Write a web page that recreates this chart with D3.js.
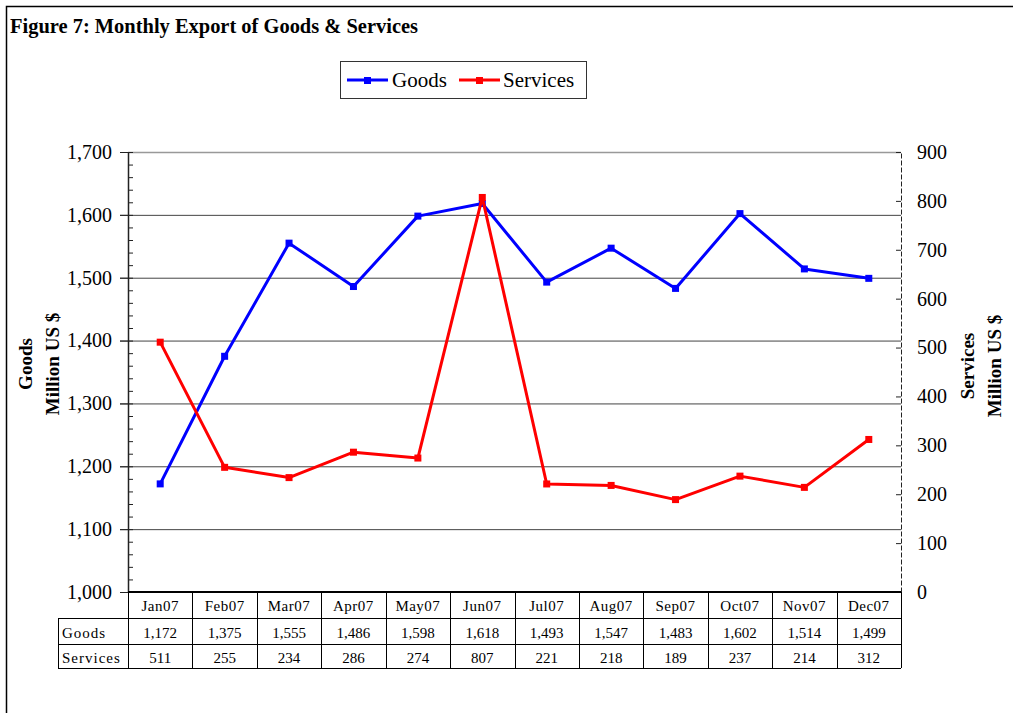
<!DOCTYPE html>
<html>
<head>
<meta charset="utf-8">
<script src="https://cdn.jsdelivr.net/npm/d3@7"></script>
<style>
  body { margin: 0; background: #fff; }
  svg text { font-family: "Liberation Serif", "Times New Roman", serif !important; fill: #000; }
</style>
</head>
<body>
<div id="chart"></div>
<script>
// data
var months = ["Jan07", "Feb07", "Mar07", "Apr07", "May07", "Jun07", "Jul07", "Aug07", "Sep07", "Oct07", "Nov07", "Dec07"];
var goods = [1172, 1375, 1555, 1486, 1598, 1618, 1493, 1547, 1483, 1602, 1514, 1499];
var services = [511, 255, 234, 286, 274, 807, 221, 218, 189, 237, 214, 312];
var goodsTicks = [1000, 1100, 1200, 1300, 1400, 1500, 1600, 1700];
var servicesTicks = [0, 100, 200, 300, 400, 500, 600, 700, 800, 900];

var width = 1013, height = 713;
var plot = {left: 128, right: 901, top: 152, bottom: 592};

var svg = d3.select("#chart")
            .append("svg")
            .attr("width", width)
            .attr("height", height);

// outer frame
svg.append("path")
   .attr("d", "M6.5,713 L6.5,6.5 L1013,6.5")
   .attr("fill", "none")
   .attr("stroke", "#000")
   .attr("stroke-width", 1.5);

// title
svg.append("text")
   .attr("x", 10)
   .attr("y", 33)
   .attr("font-size", 20)
   .attr("font-weight", "bold")
   .attr("textLength", 408)
   .attr("lengthAdjust", "spacingAndGlyphs")
   .text("Figure 7: Monthly Export of Goods & Services");

// scales
var xScale = d3.scaleBand()
               .domain(months)
               .range([plot.left, plot.right]);
var yLeft = d3.scaleLinear()
              .domain([1000, 1700])
              .range([plot.bottom, plot.top]);
var yRight = d3.scaleLinear()
               .domain([0, 900])
               .range([plot.bottom, plot.top]);

// gridlines
svg.append("g")
   .selectAll("line")
   .data(goodsTicks.slice(1, -1))
   .enter()
   .append("line")
   .attr("x1", plot.left - 8)
   .attr("x2", plot.right)
   .attr("y1", function(d) { return yLeft(d) + 0.5; })
   .attr("y2", function(d) { return yLeft(d) + 0.5; })
   .attr("stroke", "#444")
   .attr("stroke-width", 1);
// top border of the plot
svg.append("line")
   .attr("x1", plot.left)
   .attr("x2", plot.right)
   .attr("y1", plot.top + 0.5)
   .attr("y2", plot.top + 0.5)
   .attr("stroke", "#999")
   .attr("stroke-width", 1.5);

// left axis, minor ticks inside
var minorTicks = d3.range(1000, 1701, 20);
svg.append("g")
   .attr("transform", "translate(" + plot.left + ",0)")
   .call(d3.axisRight(yLeft).tickValues(minorTicks).tickSize(5).tickSizeOuter(0).tickFormat(""))
   .call(function(g) { g.select(".domain").remove(); })
   .selectAll("line").attr("stroke", "#222");
// left axis, major ticks outside
var leftAxis = svg.append("g")
   .attr("transform", "translate(" + plot.left + ",0)")
   .call(d3.axisLeft(yLeft).tickValues(goodsTicks).tickSize(8).tickSizeOuter(0).tickPadding(8).tickFormat(d3.format(",")));
leftAxis.select(".domain").attr("stroke", "#222").attr("stroke-width", 1.5);
leftAxis.selectAll("line").attr("stroke", "#222");
leftAxis.selectAll("text")
        .attr("font-size", 20);

// right axis (dashed line, ticks pointing inward)
var rightAxis = svg.append("g")
   .attr("transform", "translate(" + plot.right + ",0)")
   .call(d3.axisRight(yRight).tickValues(servicesTicks).tickSize(-5).tickSizeOuter(0).tickPadding(16));
rightAxis.select(".domain").attr("stroke", "#222").attr("stroke-dasharray", "5,2");
rightAxis.selectAll("line").attr("stroke", "#222");
rightAxis.selectAll("text")
         .attr("font-size", 20);

// x baseline
svg.append("line")
   .attr("x1", plot.left)
   .attr("x2", plot.right)
   .attr("y1", plot.bottom)
   .attr("y2", plot.bottom)
   .attr("stroke", "#000")
   .attr("stroke-width", 2);

// axis titles
function axisTitle(x, y, lines) {
  var t = svg.append("text")
             .attr("transform", "translate(" + x + "," + y + ") rotate(-90)")
             .attr("text-anchor", "middle")
             .attr("font-size", 19)
             .attr("font-weight", "bold");
  lines.forEach(function(s, i) {
    t.append("tspan").attr("x", 0).attr("dy", i === 0 ? 0 : 27).text(s);
  });
}
axisTitle(32, 364, ["Goods", "Million US $"]);
axisTitle(974, 366, ["Services", "Million US $"]);

// lines
var series = [
  {name: "Goods", values: goods, scale: yLeft, color: "#0000ff"},
  {name: "Services", values: services, scale: yRight, color: "#ff0000"}
];
series.forEach(function(s) {
  var line = d3.line()
               .x(function(d, i) { return xScale(months[i]) + xScale.bandwidth() / 2; })
               .y(function(d) { return s.scale(d); });
  svg.append("path")
     .datum(s.values)
     .attr("fill", "none")
     .attr("stroke", s.color)
     .attr("stroke-width", 3)
     .attr("stroke-linejoin", "round")
     .attr("d", line);
  svg.append("g")
     .selectAll("rect")
     .data(s.values)
     .enter()
     .append("rect")
     .attr("x", function(d, i) { return xScale(months[i]) + xScale.bandwidth() / 2 - 3.5; })
     .attr("y", function(d) { return s.scale(d) - 3.5; })
     .attr("width", 7)
     .attr("height", 7)
     .attr("fill", s.color);
});

// legend
var legend = svg.append("g");
legend.append("rect")
      .attr("x", 340.5).attr("y", 61.5)
      .attr("width", 246).attr("height", 37)
      .attr("fill", "#fff")
      .attr("stroke", "#333")
      .attr("stroke-width", 1);
var legendPos = [{x: 347, tx: 392}, {x: 459, tx: 503}];
series.forEach(function(s, i) {
  var p = legendPos[i];
  legend.append("line")
        .attr("x1", p.x).attr("x2", p.x + 41)
        .attr("y1", 80).attr("y2", 80)
        .attr("stroke", s.color).attr("stroke-width", 3);
  legend.append("rect")
        .attr("x", p.x + 17).attr("y", 77)
        .attr("width", 7).attr("height", 7)
        .attr("fill", s.color);
  legend.append("text")
        .attr("x", p.tx).attr("y", 87)
        .attr("font-size", 21)
        .text(s.name);
});

// data table
var rowTop = [592, 618, 644], rowBottom = 668;
var labelLeft = 58;
var table = svg.append("g").attr("font-size", 15);
// horizontal rules
[618, 644, rowBottom].forEach(function(y) {
  table.append("line")
       .attr("x1", labelLeft).attr("x2", plot.right)
       .attr("y1", y + 0.5).attr("y2", y + 0.5)
       .attr("stroke", "#000");
});
// vertical rules
var cols = months.map(function(m) { return xScale(m); }).concat([plot.right]);
table.selectAll("line.col")
     .data(cols)
     .enter()
     .append("line")
     .attr("class", "col")
     .attr("x1", function(d) { return Math.round(d) + 0.5; })
     .attr("x2", function(d) { return Math.round(d) + 0.5; })
     .attr("y1", rowTop[0])
     .attr("y2", rowBottom)
     .attr("stroke", "#000");
table.append("line")
     .attr("x1", labelLeft + 0.5).attr("x2", labelLeft + 0.5)
     .attr("y1", 618).attr("y2", rowBottom)
     .attr("stroke", "#000");
// month row
table.selectAll("text.month")
     .data(months)
     .enter()
     .append("text")
     .attr("class", "month")
     .attr("x", function(d) { return xScale(d) + xScale.bandwidth() / 2; })
     .attr("y", 611)
     .attr("text-anchor", "middle")
     .attr("letter-spacing", 0.5)
     .text(function(d) { return d; });
// value rows
var rows = [
  {label: "Goods", values: goods, y: 638},
  {label: "Services", values: services, y: 663}
];
rows.forEach(function(r) {
  table.append("text")
       .attr("x", labelLeft + 4)
       .attr("y", r.y)
       .attr("letter-spacing", 1)
       .text(r.label);
  table.selectAll(null)
       .data(r.values)
       .enter()
       .append("text")
       .attr("x", function(d, i) { return xScale(months[i]) + xScale.bandwidth() / 2; })
       .attr("y", r.y)
       .attr("text-anchor", "middle")
       .text(function(d) { return d3.format(",")(d); });
});
</script>
</body>
</html>
